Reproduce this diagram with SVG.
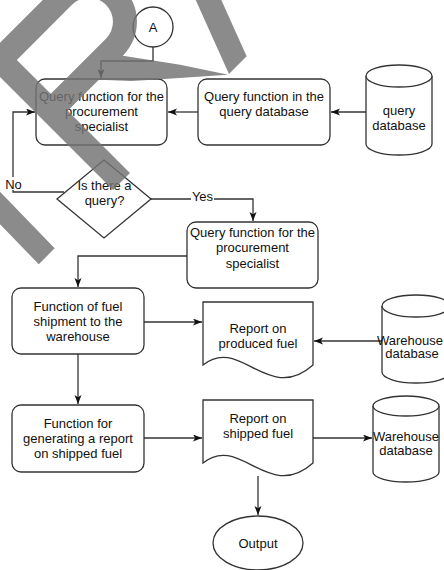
<svg xmlns="http://www.w3.org/2000/svg" width="444" height="570" viewBox="0 0 444 570">
<style>
.s{fill:#fff;stroke:#333;stroke-width:1.3}
.c{fill:none;stroke:#333;stroke-width:1.3}
.t{font-family:"Liberation Sans",Arial,sans-serif;font-size:13px;fill:#111;text-anchor:middle}
.bg{fill:#fff}
</style>
<defs>
<marker id="ar" markerUnits="userSpaceOnUse" markerWidth="10" markerHeight="8" refX="9" refY="3.5" orient="auto">
<path d="M0,0 L9,3.5 L0,7 L2.2,3.5 Z" fill="#111"/>
</marker>
</defs>
<rect width="444" height="570" fill="#fff"/>

<g id="connectors">
<path class="c" d="M153,47 V61 H101 V78" marker-end="url(#ar)"/>
<path class="c" d="M366,112 H331" marker-end="url(#ar)"/>
<path class="c" d="M198,112 H168" marker-end="url(#ar)"/>
<path class="c" d="M64,192 H13 V112 H35" marker-end="url(#ar)"/>
<path class="c" d="M151,199 H253 V221" marker-end="url(#ar)"/>
<path class="c" d="M187,256 H78 V287" marker-end="url(#ar)"/>
<path class="c" d="M144,322 H202" marker-end="url(#ar)"/>
<path class="c" d="M382,341 H314" marker-end="url(#ar)"/>
<path class="c" d="M78,354 V404" marker-end="url(#ar)"/>
<path class="c" d="M144,438 H202" marker-end="url(#ar)"/>
<path class="c" d="M313,438 H372" marker-end="url(#ar)"/>
<path class="c" d="M258,476 V515" marker-end="url(#ar)"/>
<rect class="bg" x="4" y="177" width="19" height="13"/>
<text class="t" x="13.5" y="188.5">No</text>
<rect class="bg" x="191" y="190" width="23" height="12"/>
<text class="t" x="202.5" y="201">Yes</text>
</g>

<g id="node-A">
<circle class="s" cx="153" cy="27" r="20"/>
<text class="t" x="153" y="31.5">A</text>
</g>

<g id="node-query-specialist-1">
<rect class="s" x="36" y="79" width="131" height="66" rx="9"/>
<text class="t" x="101.5" y="101">Query function for the</text>
<text class="t" x="101.5" y="116">procurement</text>
<text class="t" x="101.5" y="131">specialist</text>
</g>

<g id="node-query-function-db">
<rect class="s" x="198" y="79" width="132" height="66" rx="9"/>
<text class="t" x="264" y="101">Query function in the</text>
<text class="t" x="264" y="116">query database</text>
</g>

<g id="node-query-database">
<path class="s" d="M366,76 V144 A33,11 0 0 0 432,144 V76"/>
<ellipse class="s" cx="399" cy="76" rx="33" ry="11"/>
<text class="t" x="399" y="114.5">query</text>
<text class="t" x="399" y="129.5">database</text>
</g>

<g id="node-decision">
<polygon class="s" points="104,160 151,199 104,238 57,199"/>
<text class="t" x="104.5" y="189.5">Is there a</text>
<text class="t" x="104.5" y="204.5">query?</text>
</g>

<g id="node-query-specialist-2">
<rect class="s" x="187" y="222" width="131" height="66" rx="9"/>
<text class="t" x="252.5" y="237">Query function for the</text>
<text class="t" x="252.5" y="252">procurement</text>
<text class="t" x="252.5" y="267.5">specialist</text>
</g>

<g id="node-shipment">
<rect class="s" x="12" y="288" width="132" height="66" rx="9"/>
<text class="t" x="78" y="310.5">Function of fuel</text>
<text class="t" x="78" y="325.5">shipment to the</text>
<text class="t" x="78" y="340.5">warehouse</text>
</g>

<g id="node-report-produced">
<path class="s" d="M203,302 H313 V365 C268,405 240,335 203,365 Z"/>
<text class="t" x="258" y="332.5">Report on</text>
<text class="t" x="258" y="347.5">produced fuel</text>
</g>

<g id="node-warehouse-db-1">
<path class="s" d="M382,306 V372 A34,11 0 0 0 450,372 V306"/>
<ellipse class="s" cx="416" cy="306" rx="34" ry="11"/>
<text class="t" x="410" y="344.5">Warehouse</text>
<text class="t" x="412" y="358">database</text>
</g>

<g id="node-generate-report">
<rect class="s" x="12" y="405" width="132" height="67" rx="9"/>
<text class="t" x="78" y="427.5">Function for</text>
<text class="t" x="78" y="442.5">generating a report</text>
<text class="t" x="78" y="457.5">on shipped fuel</text>
</g>

<g id="node-report-shipped">
<path class="s" d="M203,400 H313 V463 C268,503 240,433 203,463 Z"/>
<text class="t" x="258" y="422.5">Report on</text>
<text class="t" x="258" y="437.5">shipped fuel</text>
</g>

<g id="node-warehouse-db-2">
<path class="s" d="M373,406 V472 A33,10 0 0 0 439,472 V406"/>
<ellipse class="s" cx="406" cy="406" rx="33" ry="10"/>
<text class="t" x="406" y="441">Warehouse</text>
<text class="t" x="406" y="455">database</text>
</g>

<g id="node-output">
<ellipse class="s" cx="258" cy="543" rx="45" ry="27"/>
<text class="t" x="258" y="547.5">Output</text>
</g>

<g id="watermark" transform="translate(113,190) rotate(-45)" fill="#737373" opacity="0.83">
<path fill-rule="evenodd" d="M0,0 V-184 H102 A48,48 0 0 1 102,-88 L136,-41 L163,0 L140,-20 L115,-42 L90,-64 L68,-88 H24 V0 Z M24,-160 H102 A24,24 0 0 1 102,-112 H24 Z M164,0 H189 L265,-200 H240 Z M-105,0 H-82.5 L-79,-200 H-102 Z"/>
</g>
</svg>
